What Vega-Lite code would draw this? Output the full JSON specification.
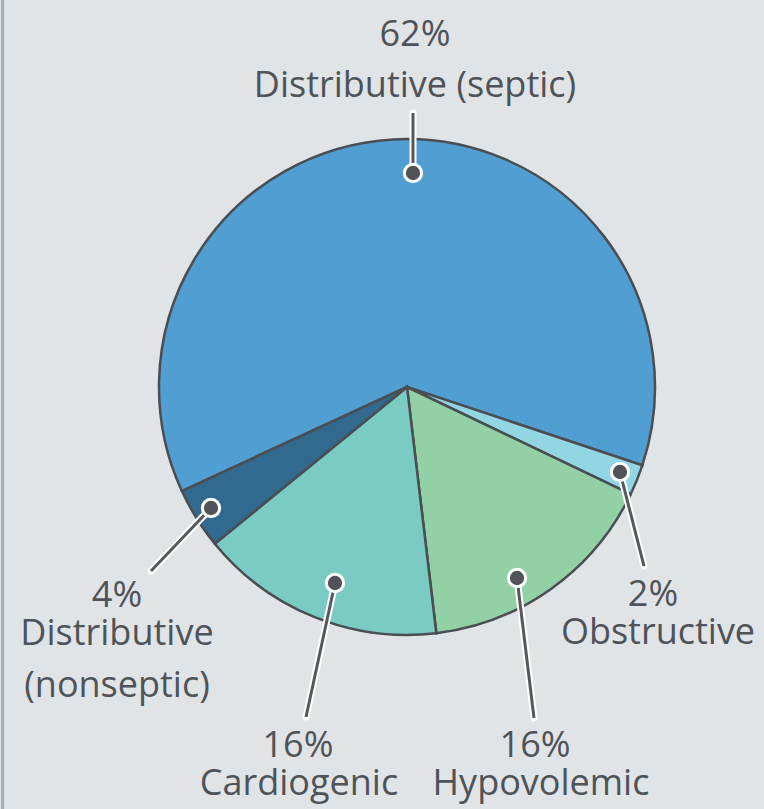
{
  "$schema": "https://vega.github.io/schema/vega-lite/v6.json",
  "width": 714,
  "height": 774,
  "autosize": {"type": "none"},
  "padding": {"left": 50, "top": 0, "right": 0, "bottom": 35},
  "background": "#E1E4E7",
  "config": {"view": {"stroke": null}},
  "datasets": {
    "border": [{"x": -162.4, "y": 155.42, "y2": -169.5}],
    "slices": [
      {"category": "Distributive (septic)", "value": 62, "order": 1},
      {"category": "Obstructive", "value": 2, "order": 2},
      {"category": "Hypovolemic", "value": 16, "order": 3},
      {"category": "Cardiogenic", "value": 16, "order": 4},
      {"category": "Distributive (nonseptic)", "value": 4, "order": 5}
    ],
    "leaders": [
      {"category": "Distributive (septic)", "x": 2.41, "y": 85.94, "x2": 2.41, "y2": 110.04},
      {"category": "Distributive (nonseptic)", "x": -78.71, "y": -48.59, "x2": -102.81, "y2": -73.9},
      {"category": "Cardiogenic", "x": -28.92, "y": -78.71, "x2": -40.56, "y2": -132.53},
      {"category": "Hypovolemic", "x": 44.18, "y": -76.71, "x2": 51.0, "y2": -132.93},
      {"category": "Obstructive", "x": 85.54, "y": -34.14, "x2": 95.18, "y2": -71.89}
    ],
    "labels": [
      {"text": "62%", "x": 3.21, "y": 136.94},
      {"text": "Distributive (septic)", "x": 3.21, "y": 116.47},
      {"text": "4%", "x": -116.47, "y": -88.35},
      {"text": "Distributive", "x": -116.47, "y": -103.61},
      {"text": "(nonseptic)", "x": -116.47, "y": -124.5},
      {"text": "16%", "x": -43.78, "y": -148.59},
      {"text": "Cardiogenic", "x": -43.37, "y": -163.86},
      {"text": "16%", "x": 51.41, "y": -148.59},
      {"text": "Hypovolemic", "x": 53.82, "y": -163.86},
      {"text": "2%", "x": 98.8, "y": -87.95},
      {"text": "Obstructive", "x": 100.8, "y": -103.21}
    ]
  },
  "layer": [
    {
      "data": {"name": "border"},
      "mark": {"type": "rule", "color": "#A4ACB4", "strokeWidth": 3},
      "encoding": {
        "x": {"field": "x", "type": "quantitative", "scale": {"domain": [-143.37, 143.37], "nice": false, "zero": false}, "axis": null},
        "y": {"field": "y", "type": "quantitative", "scale": {"domain": [-155.42, 155.42], "nice": false, "zero": false}, "axis": null},
        "y2": {"field": "y2"}
      }
    },
    {
      "data": {"name": "slices"},
      "mark": {"type": "arc", "outerRadius": 248, "stroke": "#4A4E52", "strokeWidth": 2.5},
      "encoding": {
        "theta": {"field": "value", "type": "quantitative", "stack": true, "scale": {"range": [-2.0036, 4.2796]}},
        "order": {"field": "order", "type": "quantitative"},
        "color": {
          "field": "category", "type": "nominal", "legend": null,
          "scale": {
            "domain": ["Distributive (septic)", "Obstructive", "Hypovolemic", "Cardiogenic", "Distributive (nonseptic)"],
            "range": ["#519FD2", "#92D6E4", "#92D0A5", "#7BCBC5", "#316A8E"]
          }
        }
      }
    },
    {
      "data": {"name": "leaders"},
      "mark": {"type": "rule", "color": "#FFFFFF", "strokeWidth": 7, "strokeCap": "round"},
      "encoding": {
        "x": {"field": "x", "type": "quantitative", "scale": {"domain": [-143.37, 143.37], "nice": false, "zero": false}, "axis": null},
        "y": {"field": "y", "type": "quantitative", "scale": {"domain": [-155.42, 155.42], "nice": false, "zero": false}, "axis": null},
        "x2": {"field": "x2"},
        "y2": {"field": "y2"}
      }
    },
    {
      "data": {"name": "leaders"},
      "mark": {"type": "rule", "color": "#55595E", "strokeWidth": 3},
      "encoding": {
        "x": {"field": "x", "type": "quantitative", "scale": {"domain": [-143.37, 143.37], "nice": false, "zero": false}, "axis": null},
        "y": {"field": "y", "type": "quantitative", "scale": {"domain": [-155.42, 155.42], "nice": false, "zero": false}, "axis": null},
        "x2": {"field": "x2"},
        "y2": {"field": "y2"}
      }
    },
    {
      "data": {"name": "leaders"},
      "mark": {"type": "point", "shape": "circle", "filled": true, "size": 300, "color": "#505459", "stroke": "#FFFFFF", "strokeWidth": 3, "opacity": 1},
      "encoding": {
        "x": {"field": "x", "type": "quantitative", "scale": {"domain": [-143.37, 143.37], "nice": false, "zero": false}, "axis": null},
        "y": {"field": "y", "type": "quantitative", "scale": {"domain": [-155.42, 155.42], "nice": false, "zero": false}, "axis": null}
      }
    },
    {
      "data": {"name": "labels"},
      "mark": {"type": "text", "font": "Open Sans", "fontSize": 36, "color": "#4E5358", "align": "center", "baseline": "alphabetic"},
      "encoding": {
        "x": {"field": "x", "type": "quantitative", "scale": {"domain": [-143.37, 143.37], "nice": false, "zero": false}, "axis": null},
        "y": {"field": "y", "type": "quantitative", "scale": {"domain": [-155.42, 155.42], "nice": false, "zero": false}, "axis": null},
        "text": {"field": "text", "type": "nominal"}
      }
    }
  ]
}
